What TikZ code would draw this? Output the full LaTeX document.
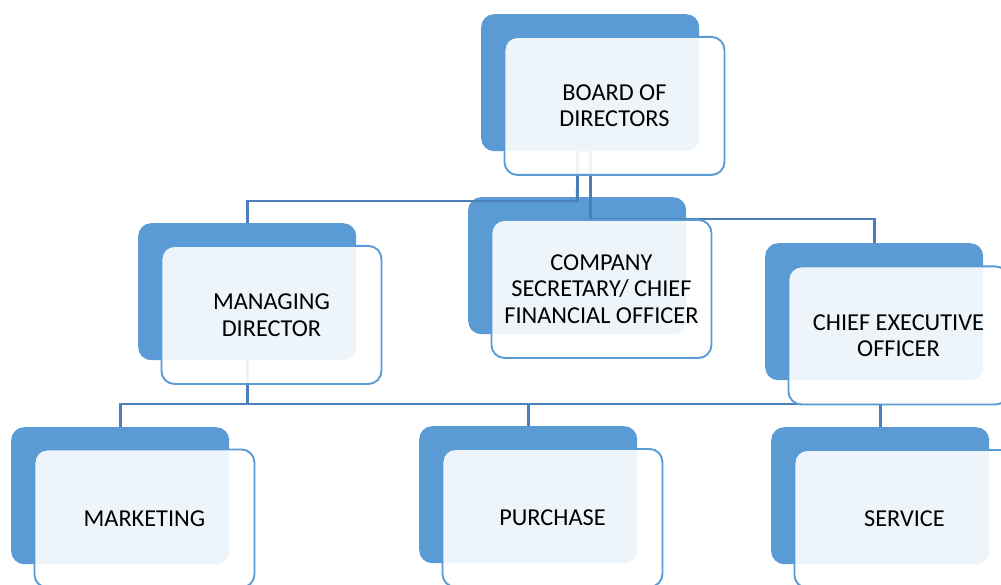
\documentclass[tikz,border=0pt]{standalone}
\usepackage{fontspec}
\setmainfont{Carlito}
\definecolor{accent}{HTML}{5B9BD5}
\definecolor{connc}{HTML}{4A7FB7}
\begin{document}
\begin{tikzpicture}[x=1pt,y=-1pt,
  backbox/.style={rectangle, rounded corners=13pt, fill=accent, draw=none,
    minimum width=218pt, minimum height=137pt, inner sep=0pt, anchor=north west},
  frontbox/.style={rectangle, rounded corners=13pt, fill=white, fill opacity=0.9,
    text opacity=1, draw=accent, line width=1.9pt,
    minimum width=220pt, minimum height=138pt, inner sep=0pt, anchor=north west,
    align=center, font=\fontsize{24.3}{26.5}\selectfont, text=black},
  conn/.style={draw=connc, line width=2.6pt}]
\clip (0,0) rectangle (1001,585);
\fill[white] (0,0) rectangle (1001,585);
% junction levels
\coordinate (lvA) at (0,201);
\coordinate (lvB) at (0,219);
\coordinate (lvC) at (0,404);
% back boxes
\node[backbox] (bdB) at (481,14) {};
\node[backbox] (cfB) at (468,197) {};
\node[backbox] (mdB) at (138,223) {};
\node[backbox] (ceB) at (765,243) {};
\node[backbox] (mkB) at (11,427) {};
\node[backbox] (puB) at (419,426) {};
\node[backbox] (svB) at (771,427) {};
% connector start points
\coordinate (bdL) at ([xshift=-12.5pt]bdB.south);
\coordinate (bdR) at (bdB.south);
% connectors (drawn under the front boxes)
\draw[conn] (bdL) -- (cfB.north);
\draw[conn] (bdL) -- (bdL |- lvA) -| (mdB.north);
\draw[conn] (bdR) -- (bdR |- lvB) -| (ceB.north);
\draw[conn] (mdB.south) -- (mdB.south |- lvC) -| (mkB.north);
\draw[conn] (mdB.south |- lvC) -| (puB.north);
\draw[conn] (mdB.south |- lvC) -| (svB.north);
% front boxes
\node[frontbox] (bdF) at ([shift={(22.5pt,-22pt)}]bdB.north west) {BOARD OF\\DIRECTORS};
\node[frontbox] (cfF) at ([shift={(22.5pt,-22pt)}]cfB.north west) {COMPANY\\SECRETARY/ CHIEF\\FINANCIAL OFFICER};
\node[frontbox] (mdF) at ([shift={(22.5pt,-22pt)}]mdB.north west) {MANAGING\\DIRECTOR};
\node[frontbox] (ceF) at ([shift={(22.5pt,-22.5pt)}]ceB.north west) {CHIEF EXECUTIVE\\OFFICER};
\node[frontbox] (mkF) at ([shift={(22.5pt,-21.5pt)}]mkB.north west) {MARKETING};
\node[frontbox] (puF) at ([shift={(22.5pt,-22pt)}]puB.north west) {PURCHASE};
\node[frontbox] (svF) at ([shift={(22.5pt,-22pt)}]svB.north west) {SERVICE};
\end{tikzpicture}
\end{document}
